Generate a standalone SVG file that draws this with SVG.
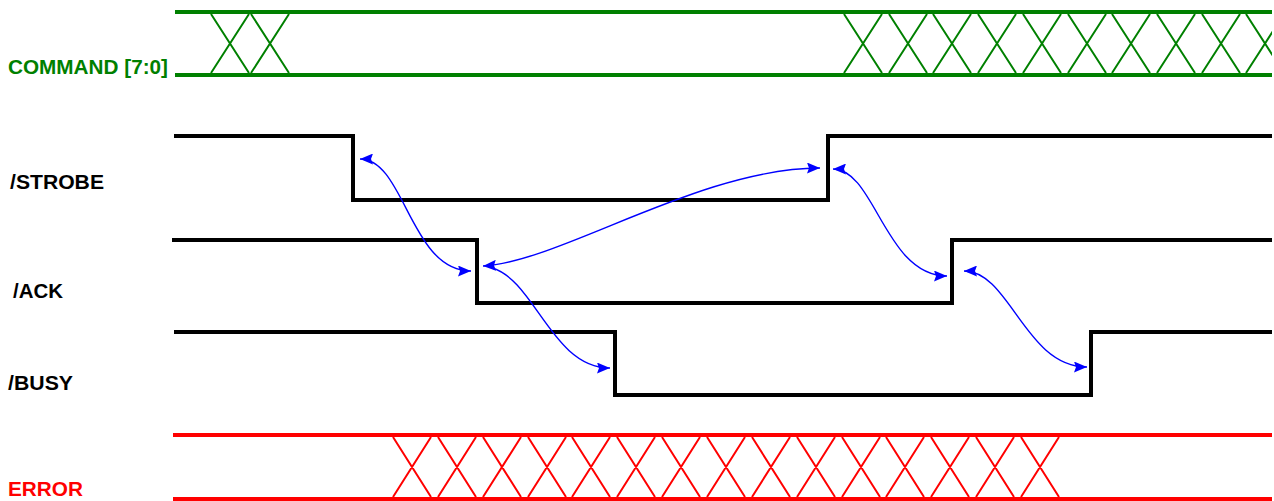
<svg xmlns="http://www.w3.org/2000/svg" width="1274" height="501" viewBox="0 0 1274 501">
<style>
  .lbl { font-family: "Liberation Sans", Arial, sans-serif; font-weight: bold; font-size: 20px; }
  .bus { fill: none; stroke-width: 4; }
  .xs { fill: none; stroke-width: 2; }
  .sig { fill: none; stroke: #000; stroke-width: 4; stroke-linejoin: miter; }
  .arr { fill: none; stroke: #0000ff; stroke-width: 1.4; }
</style>
<defs>
  <marker id="ah" viewBox="0 0 13 11" refX="13" refY="5.5" markerWidth="13" markerHeight="11" markerUnits="userSpaceOnUse" orient="auto-start-reverse">
    <path d="M0,0 L13,5.5 L0,11 L2,5.5 z" fill="#0000ff"/>
  </marker>
  <clipPath id="clipR"><rect x="0" y="0" width="1272" height="501"/></clipPath>
</defs>
<rect width="1274" height="501" fill="#fff"/>

<g id="command">
  <text class="lbl" x="8" y="74" fill="#008000" textLength="160" lengthAdjust="spacingAndGlyphs">COMMAND [7:0]</text>
  <path class="bus" stroke="#008000" d="M175,12 H1272 M175,75 H1272"/>
  <g clip-path="url(#clipR)">
  <path class="xs" stroke="#008000" d="M211,14L249,73M249,14L211,73 M251,14L289,73M289,14L251,73
    M844,14L882,73M882,14L844,73 M889,14L927,73M927,14L889,73 M933,14L971,73M971,14L933,73
    M978,14L1016,73M1016,14L978,73 M1023,14L1061,73M1061,14L1023,73 M1068,14L1106,73M1106,14L1068,73
    M1112,14L1150,73M1150,14L1112,73 M1157,14L1195,73M1195,14L1157,73 M1202,14L1240,73M1240,14L1202,73
    M1246,14L1284,73M1284,14L1246,73"/>
  </g>
</g>

<g id="strobe">
  <text class="lbl" x="10" y="189" fill="#000" textLength="94" lengthAdjust="spacingAndGlyphs">/STROBE</text>
  <path class="sig" d="M174,136 H353 V200 H828 V136 H1272"/>
</g>

<g id="ack">
  <text class="lbl" x="13" y="298" fill="#000" textLength="50" lengthAdjust="spacingAndGlyphs">/ACK</text>
  <path class="sig" d="M172,240 H477 V303 H952 V240 H1272"/>
</g>

<g id="busy">
  <text class="lbl" x="8" y="390" fill="#000" textLength="65" lengthAdjust="spacingAndGlyphs">/BUSY</text>
  <path class="sig" d="M174,332 H615 V395 H1091 V332 H1272"/>
</g>

<g id="error">
  <text class="lbl" x="8" y="496" fill="#ff0000" textLength="75" lengthAdjust="spacingAndGlyphs">ERROR</text>
  <path class="bus" stroke="#ff0000" d="M173,435 H1272 M173,499 H1272"/>
  <path class="xs" stroke="#ff0000" d="M393,437L431,497M431,437L393,497 M438,437L476,497M476,437L438,497
    M483,437L521,497M521,437L483,497 M528,437L566,497M566,437L528,497 M572,437L610,497M610,437L572,497
    M617,437L655,497M655,437L617,497 M662,437L700,497M700,437L662,497 M707,437L745,497M745,437L707,497
    M752,437L790,497M790,437L752,497 M797,437L835,497M835,437L797,497 M842,437L880,497M880,437L842,497
    M886,437L924,497M924,437L886,497 M931,437L969,497M969,437L931,497 M976,437L1014,497M1014,437L976,497
    M1021,437L1059,497M1059,437L1021,497"/>
</g>

<g id="connectors">
  <path class="arr" marker-start="url(#ah)" marker-end="url(#ah)" d="M360,159 C405,159 410,271 471,271"/>
  <path class="arr" marker-start="url(#ah)" marker-end="url(#ah)" d="M483,266 C560,262 700,168 820,168"/>
  <path class="arr" marker-end="url(#ah)" d="M492,268 C535,280 552,368 610,368"/>
  <path class="arr" marker-start="url(#ah)" marker-end="url(#ah)" d="M833,169 C875,169 885,276 947,276"/>
  <path class="arr" marker-start="url(#ah)" marker-end="url(#ah)" d="M964,271 C1010,271 1025,367 1087,367"/>
</g>
</svg>
